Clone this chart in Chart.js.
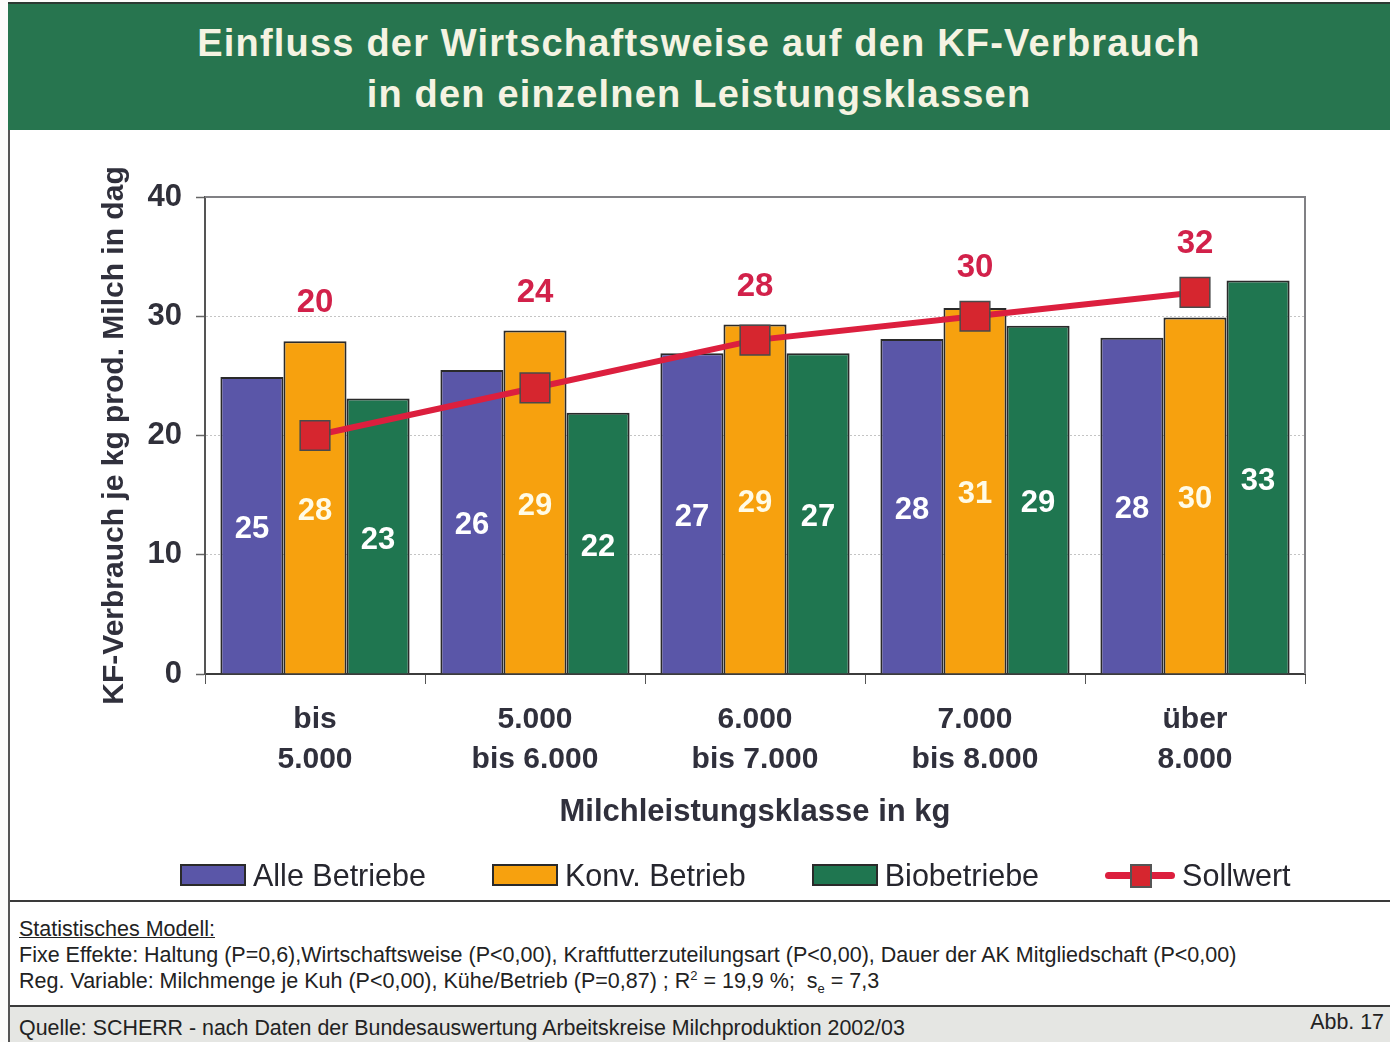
<!DOCTYPE html>
<html lang="de">
<head>
<meta charset="utf-8">
<title>Einfluss der Wirtschaftsweise auf den KF-Verbrauch</title>
<script src="https://cdn.jsdelivr.net/npm/chart.js@4.4.0/dist/chart.umd.min.js"></script>
<style>
  body {
    margin: 0;
    width: 1390px;
    height: 1042px;
    background: #fcfcfb;
    font-family: "Liberation Sans", Arial, sans-serif;
    position: relative;
    overflow: hidden;
  }
  #header {
    position: absolute;
    left: 8px;
    top: 2px;
    width: 1382px;
    height: 128px;
    box-sizing: border-box;
    border-top: 2px solid #2c3a33;
    background: #27754f;
    color: #f5f3e2;
    font-weight: bold;
    font-size: 38px;
    line-height: 51px;
    text-align: center;
    padding-top: 14px;
    letter-spacing: 1.2px;
  }
  #frame {
    position: absolute;
    left: 8px;
    top: 130px;
    width: 1382px;
    height: 912px;
    border-left: 2px solid #555;
    background: #fff;
  }
  #chartBox {
    position: absolute;
    left: 8px;
    top: 130px;
    width: 1382px;
    height: 770px;
  }
  #legend {
    position: absolute;
    left: 180px;
    top: 859px;
    height: 32px;
    display: flex;
    align-items: center;
    gap: 66px;
    font-size: 30.5px;
    color: #26262e;
  }
  .item { display: flex; align-items: center; gap: 7px; }
  .box { width: 62px; height: 18px; border: 2px solid #2a2a2a; }
  .lineIcon { position: relative; width: 70px; height: 24px; }
  .lineIcon .bar {
    position: absolute; left: 0; top: 9px; width: 70px; height: 7px;
    border-radius: 4px;
  }
  .lineIcon .sq {
    position: absolute; left: 25px; top: 1px; width: 18px; height: 20px;
    border: 2px solid #555;
  }
  #stats {
    position: absolute;
    left: 10px;
    top: 900px;
    width: 1380px;
    height: 105px;
    box-sizing: border-box;
    border-top: 2px solid #3a3a3a;
    padding: 14px 0 0 9px;
    font-size: 21.5px;
    line-height: 26px;
    color: #222;
  }
  #stats sup, #stats sub { font-size: 13px; line-height: 0; }
  #stats u { text-decoration-thickness: 1px; }
  #source {
    position: absolute;
    left: 10px;
    top: 1005px;
    width: 1380px;
    height: 37px;
    box-sizing: border-box;
    border-top: 2px solid #3a3a3a;
    background: #e5e6e3;
    font-size: 21.4px;
    color: #222;
  }
  #source .q { position: absolute; left: 9px; top: 9px; }
  #source .abb { position: absolute; right: 6px; top: 3px; }
</style>
</head>
<body>
<div id="header">Einfluss der Wirtschaftsweise auf den KF-Verbrauch<br>in den einzelnen Leistungsklassen</div>
<div id="frame"></div>
<div id="chartBox"><canvas id="kfChart"></canvas></div>
<div id="legend"></div>
<div id="stats">
  <u>Statistisches Modell:</u><br>
  Fixe Effekte: Haltung (P=0,6),Wirtschaftsweise (P&lt;0,00), Kraftfutterzuteilungsart (P&lt;0,00), Dauer der AK Mitgliedschaft (P&lt;0,00)<br>
  Reg. Variable: Milchmenge je Kuh (P&lt;0,00), Kühe/Betrieb (P=0,87) ; R<sup>2</sup> = 19,9 %;&nbsp; s<sub>e</sub> = 7,3
</div>
<div id="source">
  <span class="q">Quelle: SCHERR - nach Daten der Bundesauswertung Arbeitskreise Milchproduktion 2002/03</span>
  <span class="abb">Abb. 17</span>
</div>

<script>
// Daten aus der Grafik (dag KF je kg Milch)
const categories = [
    ['bis', '5.000'],
    ['5.000', 'bis 6.000'],
    ['6.000', 'bis 7.000'],
    ['7.000', 'bis 8.000'],
    ['über', '8.000']
];
const alleBetriebe = [24.9, 25.5, 26.9, 28.1, 28.2];
const konvBetrieb = [27.9, 28.8, 29.3, 30.7, 29.9];
const bioBetriebe = [23.1, 21.9, 26.9, 29.2, 33.0];
const sollwert = [20, 24, 28, 30, 32];
const yMin = 0;
const yMax = 40;
const yStep = 10;

const FONT = '"Liberation Sans", Arial, sans-serif';
Chart.defaults.font.family = FONT;

// Zahlen in den Balken und Sollwert-Beschriftung
const valueLabels = {
    id: 'valueLabels',
    afterDatasetsDraw(chart) {
        const ctx = chart.ctx;
        ctx.save();
        ctx.textAlign = 'center';
        ctx.textBaseline = 'middle';
        ctx.font = 'bold 31px ' + FONT;
        chart.data.datasets.forEach((ds, i) => {
            const meta = chart.getDatasetMeta(i);
            if (meta.type !== 'bar') return;
            ctx.fillStyle = ds.labelColor;
            meta.data.forEach((bar, j) => {
                ctx.fillText(Math.round(ds.data[j]), bar.x, (bar.y + bar.base) / 2 + 4);
            });
        });

        const lineMeta = chart.getDatasetMeta(3);
        const midMeta = chart.getDatasetMeta(1);
        ctx.font = 'bold 33px ' + FONT;
        ctx.fillStyle = '#d2214a';
        lineMeta.data.forEach((pt, j) => {
            const top = Math.min(pt.y - 10, midMeta.data[j].y);
            ctx.fillText(sollwert[j], pt.x, top - 38);
        });
        ctx.restore();
    }
};

// Rahmen oben und rechts um die Zeichenfläche
const plotFrame = {
    id: 'plotFrame',
    beforeDatasetsDraw(chart) {
        const { ctx, chartArea: a } = chart;
        ctx.save();
        ctx.strokeStyle = '#808084';
        ctx.lineWidth = 2;
        ctx.beginPath();
        ctx.moveTo(a.left, a.top);
        ctx.lineTo(a.right, a.top);
        ctx.lineTo(a.right, a.bottom);
        ctx.stroke();
        ctx.restore();
    }
};

const ctx = document.getElementById('kfChart').getContext('2d');
const kfChart = new Chart(ctx, {
    data: {
        labels: categories,
        datasets: [
            {
                type: 'bar',
                label: 'Alle Betriebe',
                data: alleBetriebe,
                backgroundColor: '#5a56a8',
                borderColor: '#2a2a2a',
                borderWidth: 2,
                labelColor: '#ffffff',
                categoryPercentage: 0.86,
                barPercentage: 1,
                order: 1
            },
            {
                type: 'bar',
                label: 'Konv. Betrieb',
                data: konvBetrieb,
                backgroundColor: '#f7a10e',
                borderColor: '#2a2a2a',
                borderWidth: 2,
                labelColor: '#fffbe6',
                categoryPercentage: 0.86,
                barPercentage: 1,
                order: 1
            },
            {
                type: 'bar',
                label: 'Biobetriebe',
                data: bioBetriebe,
                backgroundColor: '#1f7650',
                borderColor: '#2a2a2a',
                borderWidth: 2,
                labelColor: '#ffffff',
                categoryPercentage: 0.86,
                barPercentage: 1,
                order: 1
            },
            {
                type: 'line',
                label: 'Sollwert',
                data: sollwert,
                borderColor: '#dc1f3e',
                borderWidth: 6,
                pointStyle: 'rect',
                pointRadius: 21,
                pointHoverRadius: 21,
                pointBackgroundColor: '#d6262f',
                pointBorderColor: '#4a4a4a',
                pointBorderWidth: 1.5,
                tension: 0,
                order: 0
            }
        ]
    },
    options: {
        responsive: true,
        maintainAspectRatio: false,
        animation: false,
        layout: { padding: { top: 67, right: 85, left: 0, bottom: 0 } },
        plugins: {
            legend: { display: false },
            tooltip: { enabled: false }
        },
        scales: {
            x: {
                grid: { drawOnChartArea: false, drawTicks: true, tickLength: 10, color: '#555' },
                border: { color: '#3c3c3c', width: 2 },
                ticks: {
                    font: { size: 30, weight: 'bold', lineHeight: 40 / 30 },
                    color: '#30303c',
                    padding: 16,
                    maxRotation: 0,
                    autoSkip: false
                },
                title: {
                    display: true,
                    text: 'Milchleistungsklasse in kg',
                    font: { size: 31, weight: 'bold' },
                    color: '#30303c',
                    padding: { top: 0, bottom: 69 }
                },
                afterFit(scale) { scale.height = 226; }
            },
            y: {
                min: yMin,
                max: yMax,
                ticks: {
                    stepSize: yStep,
                    font: { size: 31, weight: 'bold' },
                    color: '#30303a',
                    padding: 14
                },
                grid: { color: '#c4c4c4', lineWidth: 1, tickLength: 9, tickColor: '#666', tickWidth: 1.5 },
                border: { color: '#555', width: 2, dash: [2, 2] },
                title: {
                    display: true,
                    text: 'KF-Verbrauch je kg prod. Milch in dag',
                    font: { size: 30, weight: 'bold' },
                    color: '#30303c',
                    padding: { top: 89, bottom: 0 }
                },
                afterFit(scale) { scale.width = 197; }
            }
        }
    },
    plugins: [plotFrame, valueLabels]
});

// Legende aus den Datensätzen bauen
const legendBox = document.getElementById('legend');
kfChart.data.datasets.forEach(ds => {
    const item = document.createElement('div');
    item.className = 'item';
    if (ds.type === 'bar') {
        item.innerHTML = `<span class="box" style="background:${ds.backgroundColor}"></span><span>${ds.label}</span>`;
    } else {
        item.innerHTML = `<span class="lineIcon"><span class="bar" style="background:${ds.borderColor}"></span>` +
            `<span class="sq" style="background:${ds.pointBackgroundColor}"></span></span><span>${ds.label}</span>`;
    }
    legendBox.appendChild(item);
});
</script>
</body>
</html>
